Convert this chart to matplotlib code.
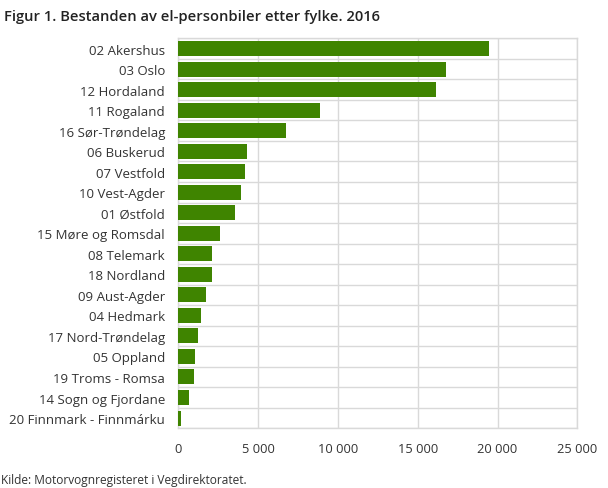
import numpy as np
import matplotlib.pyplot as plt

plt.rcParams['font.family'] = ['Open Sans', 'DejaVu Sans']

# data
fylker = [
    "02 Akershus", "03 Oslo", "12 Hordaland", "11 Rogaland", "16 Sør-Trøndelag",
    "06 Buskerud", "07 Vestfold", "10 Vest-Agder", "01 Østfold", "15 Møre og Romsdal",
    "08 Telemark", "18 Nordland", "09 Aust-Agder", "04 Hedmark", "17 Nord-Trøndelag",
    "05 Oppland", "19 Troms - Romsa", "14 Sogn og Fjordane", "20 Finnmark - Finnmárku",
]
bestand = [19480, 16790, 16170, 8860, 6730, 4290, 4170, 3920, 3540, 2610,
           2100, 2090, 1730, 1420, 1230, 1040, 980, 670, 170]
xticks = [0, 5000, 10000, 15000, 20000, 25000]
xtick_labels = ["0", "5 000", "10 000", "15 000", "20 000", "25 000"]

W, H = 608, 489
fig = plt.figure(figsize=(W / 100, H / 100), dpi=100)
ax = fig.add_axes([178.3 / W, 1 - 429.3 / H, 399 / W, 390 / H])

pos = np.arange(len(fylker))
ax.barh(pos, bestand, height=0.73, color="#3f8400", zorder=3)

ax.set_xlim(0, 25000)
ax.set_ylim(len(fylker) - 0.5, -0.5)
ax.set_xticks(xticks)
ax.set_xticklabels(xtick_labels)
ax.set_yticks(pos)
ax.set_yticklabels(fylker)
ax.set_yticks(np.arange(-0.5, len(fylker), 1), minor=True)

grid_col = "#d9d9d9"
ax.grid(axis="x", which="major", color=grid_col, linewidth=1, zorder=0)
ax.grid(axis="y", which="minor", color=grid_col, linewidth=1, zorder=0)
for s in ax.spines.values():
    s.set_color(grid_col)
    s.set_linewidth(1)

ax.tick_params(axis="both", which="both", length=0)
ax.tick_params(axis="y", pad=9.5, labelsize=9.5, labelcolor="#333333")
ax.tick_params(axis="x", pad=10, labelsize=9.3, labelcolor="#333333")

fig.text(4 / W, 1 - 17 / H, "Figur 1. Bestanden av el-personbiler etter fylke. 2016",
         fontsize=10.6, fontweight="semibold", color="#222222", va="center", ha="left")
fig.text(1 / W, 1 - 481 / H, "Kilde: Motorvognregisteret i Vegdirektoratet.",
         fontsize=8.6, color="#333333", va="center", ha="left")

fig.savefig("out.png", dpi=100)
